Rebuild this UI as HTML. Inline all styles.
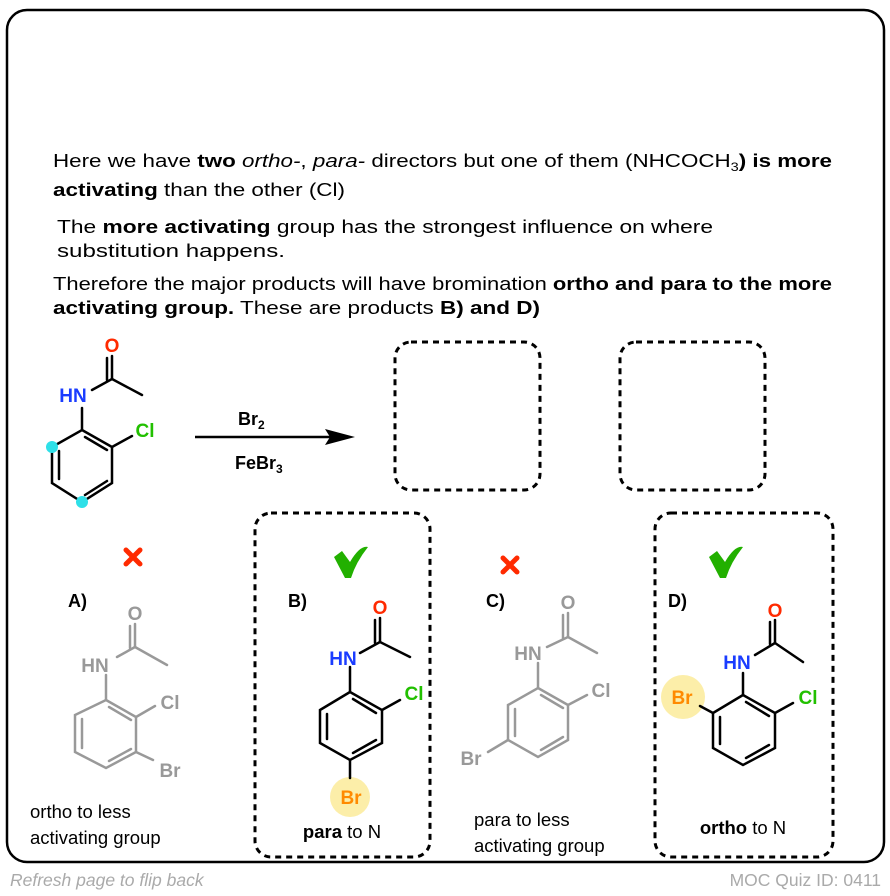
<!DOCTYPE html>
<html><head><meta charset="utf-8"><style>
html,body{margin:0;padding:0;background:#fff;}
svg{display:block;font-family:"Liberation Sans",Arial,sans-serif;}
</style></head><body>
<svg width="890" height="896" viewBox="0 0 890 896" xmlns="http://www.w3.org/2000/svg">
<rect x="7" y="10" width="877" height="852" rx="20" fill="#fff" stroke="#000" stroke-width="2.5"/>

<g font-size="18.5" fill="#000">
<text x="53" y="167" textLength="779" lengthAdjust="spacingAndGlyphs">Here we have <tspan font-weight="bold">two</tspan> <tspan font-style="italic">ortho-</tspan>, <tspan font-style="italic">para-</tspan> directors but one of them (NHCOCH<tspan font-size="12" dy="4">3</tspan><tspan dy="-4" font-weight="bold">) is more</tspan></text>
<text x="53" y="196" textLength="292" lengthAdjust="spacingAndGlyphs"><tspan font-weight="bold">activating</tspan> than the other (Cl)</text>
<text x="57" y="233" textLength="656" lengthAdjust="spacingAndGlyphs">The <tspan font-weight="bold">more activating</tspan> group has the strongest influence on where</text>
<text x="57" y="257" textLength="228" lengthAdjust="spacingAndGlyphs">substitution happens.</text>
<text x="53" y="290" textLength="779" lengthAdjust="spacingAndGlyphs">Therefore the major products will have bromination <tspan font-weight="bold">ortho and para to the more</tspan></text>
<text x="53" y="314" textLength="487" lengthAdjust="spacingAndGlyphs"><tspan font-weight="bold">activating group.</tspan> These are products <tspan font-weight="bold">B) and D)</tspan></text>
</g>

<!-- dashed boxes -->
<g fill="none" stroke="#000" stroke-width="3" stroke-dasharray="6,5">
<rect x="395" y="342" width="145" height="148" rx="16"/>
<rect x="620" y="342" width="145" height="148" rx="16"/>
<rect x="255" y="513" width="175" height="344" rx="16"/>
<rect x="655" y="513" width="178" height="344" rx="16"/>
</g>

<!-- starting material -->
<g stroke="#000" stroke-width="2.5" fill="none" stroke-linecap="round">
<line x1="112" y1="356" x2="112" y2="379"/><line x1="107" y1="358" x2="107" y2="380"/>
<line x1="112" y1="379" x2="142" y2="395"/><line x1="112" y1="379" x2="92" y2="390"/>
<line x1="82" y1="408" x2="82" y2="430"/>
<polygon points="82,430 112,447 112,483 82,502 52,483 52,447"/>
<line x1="59" y1="451" x2="59" y2="479"/><line x1="85" y1="437" x2="107" y2="450"/><line x1="85" y1="495" x2="107" y2="481"/>
<line x1="112" y1="447" x2="132" y2="436"/>
</g>
<circle cx="52" cy="447" r="6" fill="#2ee0e8"/><circle cx="82" cy="502" r="6" fill="#2ee0e8"/>
<g font-weight="bold" font-size="19">
<text x="112" y="352" fill="#ff2a00" text-anchor="middle">O</text>
<text x="73" y="402" fill="#1a3cff" text-anchor="middle">HN</text>
<text x="145" y="437" fill="#22c000" text-anchor="middle">Cl</text>
</g>
<line x1="195" y1="437" x2="335" y2="437" stroke="#000" stroke-width="2.5"/>
<polygon points="355,437 325,429 330,437 325,445" fill="#000"/>
<g font-weight="bold" font-size="18">
<text x="238" y="425">Br<tspan font-size="12" dy="4">2</tspan></text>
<text x="235" y="469">FeBr<tspan font-size="12" dy="4">3</tspan></text>
</g>

<!-- marks -->
<g stroke="#ff2a00" stroke-width="5" stroke-linecap="round">
<line x1="126" y1="550" x2="140" y2="564"/><line x1="140" y1="550" x2="126" y2="564"/>
<line x1="503" y1="558" x2="517" y2="572"/><line x1="517" y1="558" x2="503" y2="572"/>
</g>
<path d="M334,557 L342,551 L350,562 Q360,545 368,547 Q356,562 351,578 L345,578 Z" fill="#22b000"/>
<path d="M709,557 L717,551 L725,562 Q735,545 743,547 Q731,562 726,578 L720,578 Z" fill="#22b000"/>

<g font-weight="bold" font-size="18" fill="#000">
<text x="68" y="607">A)</text><text x="288" y="607">B)</text><text x="486" y="607">C)</text><text x="668" y="607">D)</text>
</g>

<!-- A -->
<g stroke="#999" stroke-width="2.5" fill="none" stroke-linecap="round">
<line x1="135" y1="624" x2="135" y2="647"/><line x1="130" y1="626" x2="130" y2="648"/>
<line x1="135" y1="647" x2="167" y2="665"/><line x1="135" y1="647" x2="117" y2="657"/>
<line x1="106" y1="675" x2="106" y2="700"/>
<polygon points="106,700 136,717 136,752 106,768 75,752 75,715"/>
<line x1="82" y1="719" x2="82" y2="748"/><line x1="109" y1="707" x2="131" y2="720"/><line x1="109" y1="761" x2="131" y2="749"/>
<line x1="136" y1="717" x2="155" y2="706"/><line x1="136" y1="752" x2="153" y2="760"/>
</g>
<g font-weight="bold" font-size="19" fill="#999">
<text x="135" y="620" text-anchor="middle">O</text>
<text x="95" y="672" text-anchor="middle">HN</text>
<text x="170" y="709" text-anchor="middle">Cl</text>
<text x="170" y="777" text-anchor="middle">Br</text>
</g>
<g font-size="18.5"><text x="30" y="818">ortho to less</text><text x="30" y="844">activating group</text></g>

<!-- B -->
<circle cx="350" cy="797" r="20" fill="#fbeb9a" opacity="0.85"/>
<g stroke="#000" stroke-width="2.5" fill="none" stroke-linecap="round">
<line x1="380" y1="618" x2="380" y2="642"/><line x1="375" y1="620" x2="375" y2="643"/>
<line x1="380" y1="642" x2="410" y2="657"/><line x1="380" y1="642" x2="360" y2="653"/>
<line x1="350" y1="667" x2="350" y2="692"/>
<polygon points="350,692 382,710 382,743 350,760 320,743 320,710"/>
<line x1="327" y1="714" x2="327" y2="739"/><line x1="353" y1="699" x2="376" y2="713"/><line x1="353" y1="753" x2="376" y2="740"/>
<line x1="382" y1="710" x2="400" y2="700"/><line x1="350" y1="760" x2="350" y2="778"/>
</g>
<g font-weight="bold" font-size="19">
<text x="380" y="614" fill="#ff2a00" text-anchor="middle">O</text>
<text x="343" y="665" fill="#1a3cff" text-anchor="middle">HN</text>
<text x="414" y="700" fill="#22c000" text-anchor="middle">Cl</text>
<text x="351" y="804" fill="#ff8a00" text-anchor="middle">Br</text>
</g>
<text x="342" y="838" font-size="18.5" text-anchor="middle"><tspan font-weight="bold">para</tspan> to N</text>

<!-- C -->
<g stroke="#999" stroke-width="2.5" fill="none" stroke-linecap="round">
<line x1="568" y1="613" x2="568" y2="637"/><line x1="563" y1="615" x2="563" y2="638"/>
<line x1="568" y1="637" x2="597" y2="653"/><line x1="568" y1="637" x2="547" y2="647"/>
<line x1="538" y1="663" x2="538" y2="688"/>
<polygon points="538,688 568,705 568,740 538,757 508,740 508,705"/>
<line x1="515" y1="709" x2="515" y2="736"/><line x1="541" y1="695" x2="563" y2="708"/><line x1="541" y1="750" x2="563" y2="737"/>
<line x1="568" y1="705" x2="587" y2="695"/><line x1="508" y1="740" x2="488" y2="752"/>
</g>
<g font-weight="bold" font-size="19" fill="#999">
<text x="568" y="609" text-anchor="middle">O</text>
<text x="528" y="660" text-anchor="middle">HN</text>
<text x="601" y="697" text-anchor="middle">Cl</text>
<text x="471" y="765" text-anchor="middle">Br</text>
</g>
<g font-size="18.5"><text x="474" y="826">para to less</text><text x="474" y="852">activating group</text></g>

<!-- D -->
<circle cx="683" cy="697" r="22" fill="#fbeb9a" opacity="0.85"/>
<g stroke="#000" stroke-width="2.5" fill="none" stroke-linecap="round">
<line x1="775" y1="620" x2="775" y2="643"/><line x1="770" y1="622" x2="770" y2="644"/>
<line x1="775" y1="643" x2="803" y2="662"/><line x1="775" y1="643" x2="755" y2="655"/>
<line x1="743" y1="673" x2="743" y2="695"/>
<polygon points="743,695 775,713 775,748 743,765 713,748 713,713"/>
<line x1="720" y1="717" x2="720" y2="744"/><line x1="746" y1="702" x2="769" y2="716"/><line x1="746" y1="758" x2="769" y2="745"/>
<line x1="775" y1="713" x2="793" y2="703"/><line x1="713" y1="713" x2="700" y2="706"/>
</g>
<g font-weight="bold" font-size="19">
<text x="775" y="617" fill="#ff2a00" text-anchor="middle">O</text>
<text x="737" y="669" fill="#1a3cff" text-anchor="middle">HN</text>
<text x="808" y="704" fill="#22c000" text-anchor="middle">Cl</text>
<text x="682" y="704" fill="#ff8a00" text-anchor="middle">Br</text>
</g>
<text x="743" y="834" font-size="18.5" text-anchor="middle"><tspan font-weight="bold">ortho</tspan> to N</text>

<text x="10" y="886" font-size="17.5" font-style="italic" fill="#aaa">Refresh page to flip back</text>
<text x="881" y="886" font-size="17.5" fill="#aaa" text-anchor="end">MOC Quiz ID: 0411</text>
</svg>
</body></html>
